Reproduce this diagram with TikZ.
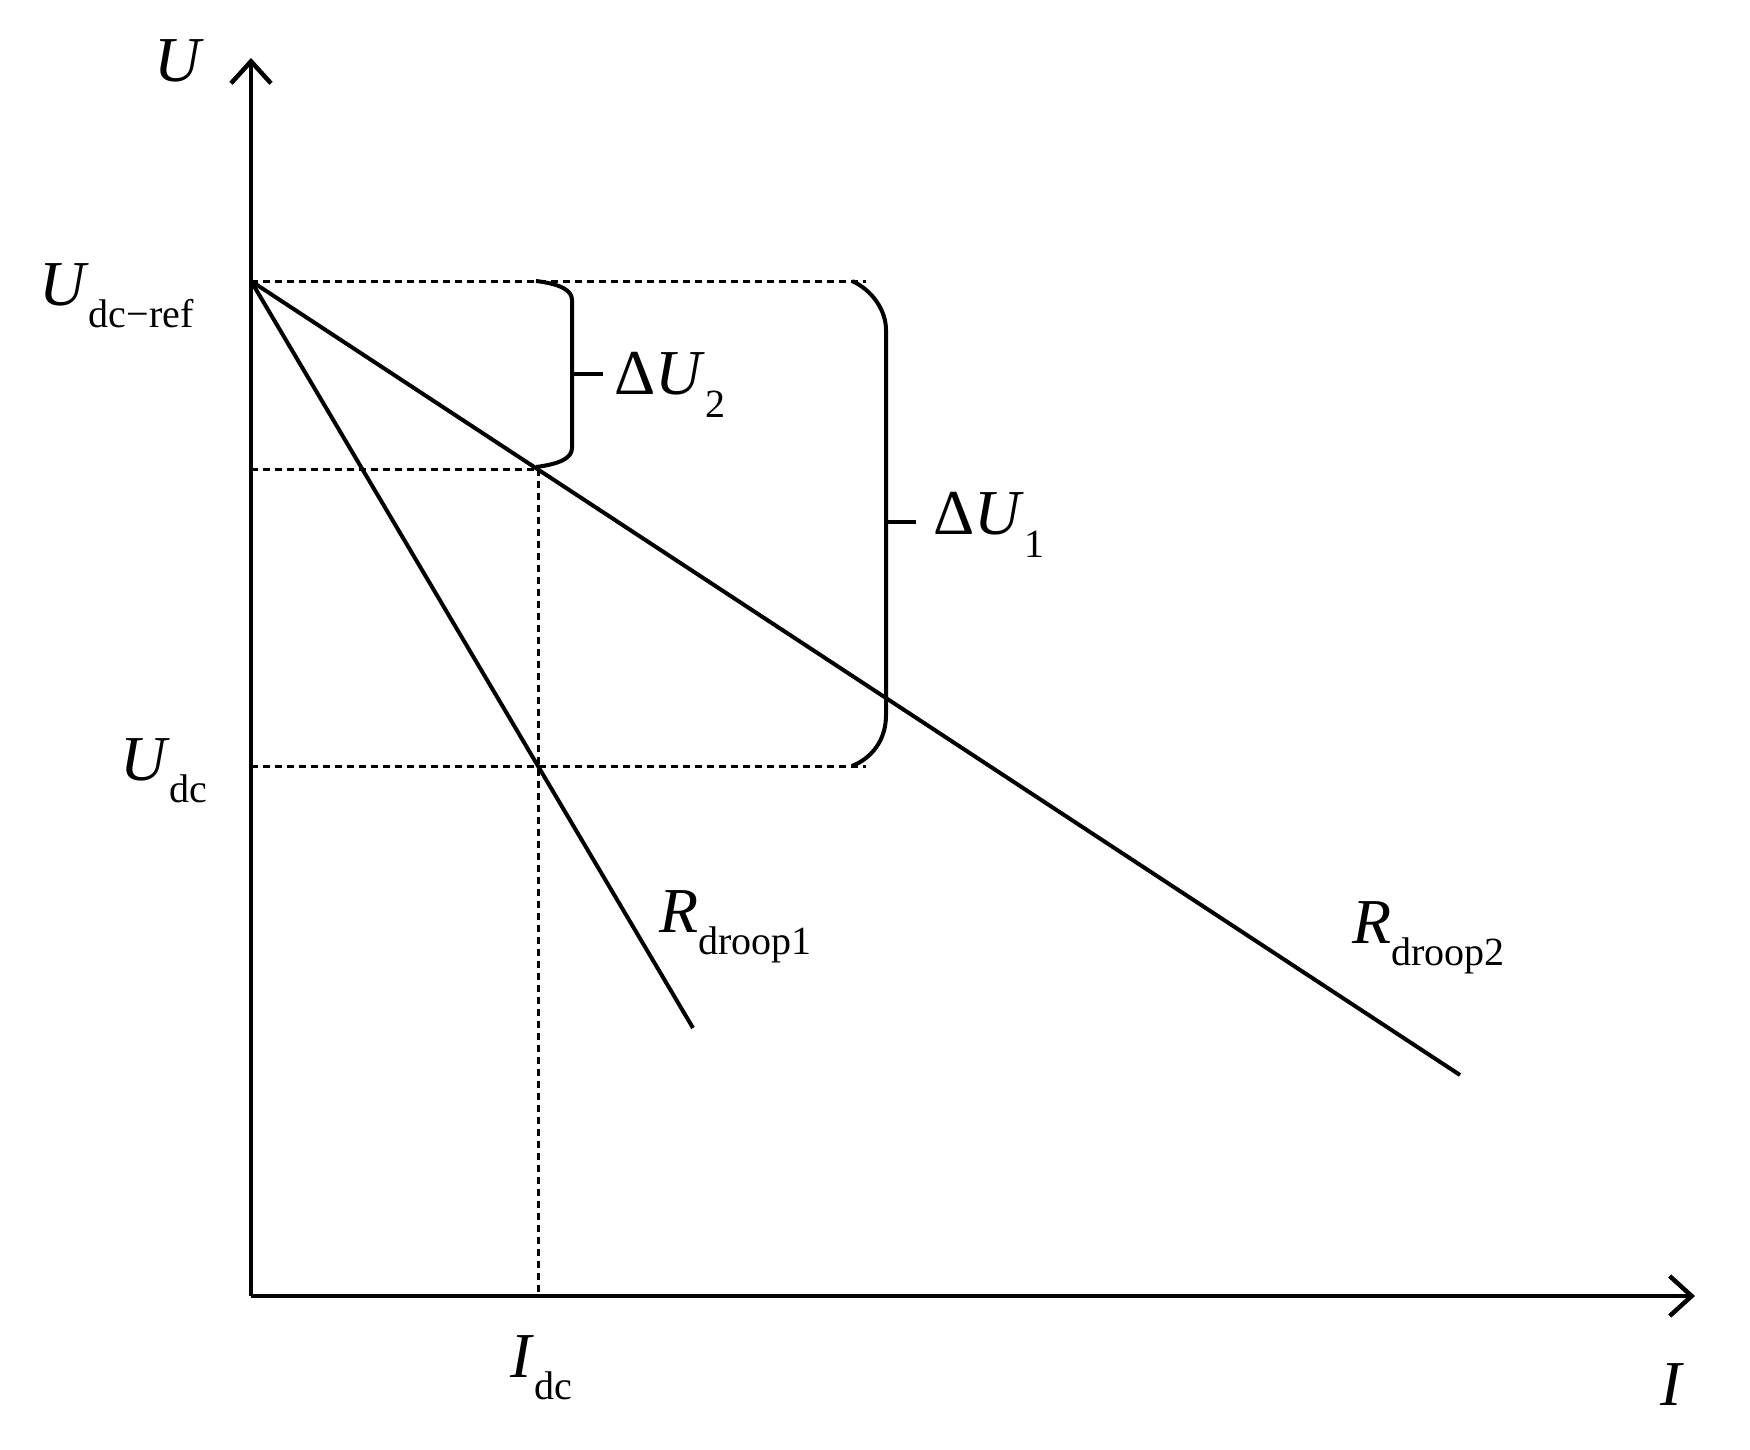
\documentclass[tikz,border=0pt]{standalone}
\usepackage{fontspec}
\setmainfont{Liberation Serif}
\usetikzlibrary{arrows.meta}
\newcommand{\sbs}[1]{\raisebox{-0.35em}{\fontsize{40}{44}\selectfont #1}}
\begin{document}
\begin{tikzpicture}[x=1pt,y=-1pt,
  ax/.style={line width=4.5pt,-{Straight Barb[length=22pt,width=40pt,line width=4.5pt]}},
  ln/.style={line width=4pt},
  dsh/.style={line width=3pt,dash pattern=on 7pt off 5pt},
  br/.style={line width=4pt},
  lab/.style={font=\fontsize{64}{70}\selectfont,inner sep=0pt}]
\useasboundingbox (0,0) rectangle (1750,1450);
\coordinate (O) at (251,1296);
\coordinate (YT) at (251,58);
\coordinate (XT) at (1695,1296);
\coordinate (R) at (251,281);
\coordinate (A) at (538,469);
\coordinate (B) at (538,766);
\coordinate (E1) at (693,1028);
\coordinate (E2) at (1460,1075);
\draw[dsh] (R) -- (866,281);
\draw[dsh] (251,469) -- (A);
\draw[dsh] (251,766) -- (866,766);
\draw[dsh] (A) -- (538,1296);
\draw[ax] (O) -- (YT);
\draw[ax] (O) -- (XT);
\draw[ln] (R) -- (E1);
\draw[ln] (R) -- (E2);
\draw[br] (536,281) .. controls (560,284) and (572,290) .. (572,300) -- (572,448) .. controls (572,458) and (560,464) .. (536,467);
\draw[br] (572,374) -- (603,374);
\draw[br] (852,281) .. controls (872,290) and (886,310) .. (886,330) -- (886,715) .. controls (886,740) and (872,758) .. (852,766);
\draw[br] (886,522) -- (916,522);
\node[lab] (lu) at (179,61) {\textit{U}};
\node[lab,anchor=west] (lref) at (39,296) {\textit{U}\sbs{dc−ref}};
\node[lab,anchor=west] (ld2) at (614,385) {Δ\textit{U}\sbs{2}};
\node[lab,anchor=west] (ld1) at (933,525) {Δ\textit{U}\sbs{1}};
\node[lab,anchor=west] (ldc) at (120,771) {\textit{U}\sbs{dc}};
\node[lab,anchor=west] (lr1) at (659,927) {\textit{R}\sbs{droop1}};
\node[lab,anchor=west] (lr2) at (1352,938) {\textit{R}\sbs{droop2}};
\node[lab,anchor=west] (lidc) at (510,1368) {\textit{I}\sbs{dc}};
\node[lab] (li) at (1672,1385) {\textit{I}};
\end{tikzpicture}
\end{document}
